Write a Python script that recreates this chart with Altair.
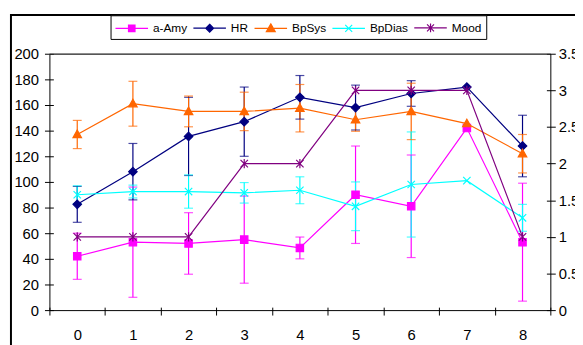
import altair as alt
import pandas as pd

FONT = "Liberation Sans"

# ---- data ----
t = list(range(9))
series_names = ["a-Amy", "HR", "BpSys", "BpDias", "Mood"]
series_colors = ["#FF00FF", "#000080", "#FF6600", "#00FFFF", "#800080"]

amy = [42, 53, 52, 55, 48.5, 90, 81, 142, 53]
amy_err = [18, 43, 24, 34, 8.5, 38, 40, None, 46]
hr = [82.5, 108, 135.5, 147, 166, 158, 169, 174, 128]
hr_err = [14, 22, 30.5, 27, 17, 17.5, 10, None, 24]
bpsys = [137, 161, 155, 155, 157.5, 148.5, 155, 145.5, 122]
bpsys_err = [11, 17.5, 12, 15, 18.5, 9, 22, None, 15]
bpdias = [90, 92.5, 92.5, 91.5, 93.5, 81, 98, 101, 72]
bpdias_err = [7, 5, 13, 8, 10.5, 19, 41, None, 10.5]
mood = [1, 1, 1, 2, 2, 3, 3, 3, 1]

left_ticks = list(range(0, 201, 20))
mood_ticks = [0, 0.5, 1, 1.5, 2, 2.5, 3, 3.5]

# marker glyphs (unit paths)
marker_paths = [
    "M-1,-1L1,-1L1,1L-1,1Z",
    "M0,-1.15L1.15,0L0,1.15L-1.15,0Z",
    "M0,-1.2L1.15,0.85L-1.15,0.85Z",
    "M-1,-1L1,1M-1,1L1,-1",
    "M-1,-1L1,1M-1,1L1,-1M0,-1.25L0,1.25",
]
# legend glyphs: line segment with marker
legend_paths = [
    "M-2.2,0L2.2,0M-0.44,-0.44L0.44,-0.44L0.44,0.44L-0.44,0.44Z",
    "M-2.2,0L2.2,0M0,-0.53L0.53,0L0,0.53L-0.53,0Z",
    "M-2.2,0L2.2,0M0,-0.6L0.6,0.45L-0.6,0.45Z",
    "M-2.2,0L2.2,0M-0.47,-0.47L0.47,0.47M-0.47,0.47L0.47,-0.47",
    "M-2.2,0L2.2,0M-0.47,-0.47L0.47,0.47M-0.47,0.47L0.47,-0.47M0,-0.6L0,0.6",
]

rows = []
for name, vals, errs in [("a-Amy", amy, amy_err), ("HR", hr, hr_err),
                         ("BpSys", bpsys, bpsys_err), ("BpDias", bpdias, bpdias_err)]:
    for ti, v, e in zip(t, vals, errs):
        rows.append({"t": ti, "series": name, "value": v,
                     "lo": (v - e) if e is not None else None,
                     "hi": (v + e) if e is not None else None})
df = pd.DataFrame(rows)
err_df = df.dropna(subset=["lo"])
mood_df = pd.DataFrame({"t": t, "mood": mood})
legend_df = pd.DataFrame({"series": series_names})

# ---- scales / encodings ----
color_scale = alt.Scale(domain=series_names, range=series_colors)

x_axis = alt.Axis(title=None, labelAngle=0, tickBand="extent", tickSize=8, offset=-3,
                  domain=False, labelPadding=13, labelFont=FONT, labelFontSize=15,
                  labelColor="black", tickColor="black", grid=False)
x_enc = alt.X("t:O", bandPosition=0.5,
              scale=alt.Scale(type="band", domain=t, paddingInner=0, paddingOuter=0),
              axis=x_axis)

y_scale = alt.Scale(domain=[0, 200], nice=False, zero=True)
y_axis = alt.Axis(title=None, values=left_ticks, tickSize=9, offset=-4, domain=False,
                  labelPadding=6, grid=False, labelFont=FONT, labelFontSize=15,
                  labelColor="black", tickColor="black")

base = alt.Chart(df)
err_base = alt.Chart(err_df)
col = alt.Color("series:N", scale=color_scale, legend=None)

bars = err_base.mark_rule(strokeWidth=1.2).encode(
    x=x_enc, y=alt.Y("lo:Q", scale=y_scale, axis=y_axis, title=None), y2="hi:Q", color=col,
)
caps_lo = err_base.mark_tick(size=9, thickness=1.2).encode(
    x=x_enc, y=alt.Y("lo:Q", scale=y_scale, axis=y_axis, title=None), color=col,
)
caps_hi = err_base.mark_tick(size=9, thickness=1.2).encode(
    x=x_enc, y=alt.Y("hi:Q", scale=y_scale, axis=y_axis, title=None), color=col,
)
lines = base.mark_line(strokeWidth=1.2).encode(
    x=x_enc, y=alt.Y("value:Q", scale=y_scale, axis=y_axis, title=None), color=col,
    detail="series:N",
)
points = base.mark_point(filled=True, opacity=1, size=56, strokeWidth=1.2).encode(
    x=x_enc,
    y=alt.Y("value:Q", scale=y_scale, axis=y_axis, title=None),
    color=col,
    stroke=alt.Stroke("series:N", scale=color_scale, legend=None),
    shape=alt.Shape("series:N", scale=alt.Scale(domain=series_names, range=marker_paths),
                    legend=None),
)
top_line = alt.Chart(pd.DataFrame({"k": [0]})).mark_rule(color="#808080", strokeWidth=1).encode(
    y=alt.datum(200, scale=y_scale, axis=y_axis, title=None)
)

left_layer = alt.layer(top_line, bars, caps_lo, caps_hi, lines, points)

mood_axis = alt.Axis(title=None, orient="right", values=mood_ticks, format="~g", tickSize=9,
                     offset=-4, domain=False, labelPadding=3, grid=False, labelFont=FONT,
                     labelFontSize=15, labelColor="black", tickColor="black")
mood_scale = alt.Scale(domain=[0, 3.5], nice=False, zero=True)
mood_base = alt.Chart(mood_df)
mood_line = mood_base.mark_line(strokeWidth=1.2, color="#800080").encode(
    x=x_enc, y=alt.Y("mood:Q", scale=mood_scale, axis=mood_axis)
)
mood_pts = mood_base.mark_point(filled=False, opacity=1, size=56, strokeWidth=1.2,
                                color="#800080", shape=marker_paths[4]).encode(
    x=x_enc, y=alt.Y("mood:Q", scale=mood_scale, axis=mood_axis)
)
mood_layer = alt.layer(mood_line, mood_pts)

legend_layer = alt.Chart(legend_df).mark_point(filled=True, opacity=1, size=225, strokeWidth=1.2).encode(
    x=alt.value(-400), y=alt.value(-400),
    color=alt.Color("series:N", scale=color_scale, legend=alt.Legend(title=None)),
    stroke=alt.Stroke("series:N", scale=color_scale, legend=alt.Legend(title=None)),
    shape=alt.Shape("series:N", scale=alt.Scale(domain=series_names, range=legend_paths),
                    legend=alt.Legend(title=None)),
)

frame = alt.Chart(pd.DataFrame({"k": [0]})).mark_rect(
    fillOpacity=0, stroke="black", strokeWidth=2
).encode(x=alt.value(-39), x2=alt.value(800), y=alt.value(-39.3), y2=alt.value(600))

chart = alt.layer(frame, left_layer, mood_layer, legend_layer).resolve_scale(
    y="independent", color="independent", stroke="independent", shape="independent"
).properties(
    width=508, height=260,
    autosize=alt.AutoSizeParams(type="none"),
    padding={"left": 42, "top": 44, "right": 25, "bottom": 33},
    background="white",
).configure_view(
    stroke="black", strokeWidth=1
).configure_legend(
    orient="none", legendX=62, legendY=-39, direction="horizontal",
    labelFont=FONT, labelFontSize=12, labelColor="black",
    strokeColor="black", padding=4, fillColor="white",
    columnPadding=3, symbolSize=225, symbolOffset=9, labelOffset=13,
    symbolStrokeWidth=1.2,
)

chart.save("out.html", embed_options={"renderer": "svg", "actions": False})
